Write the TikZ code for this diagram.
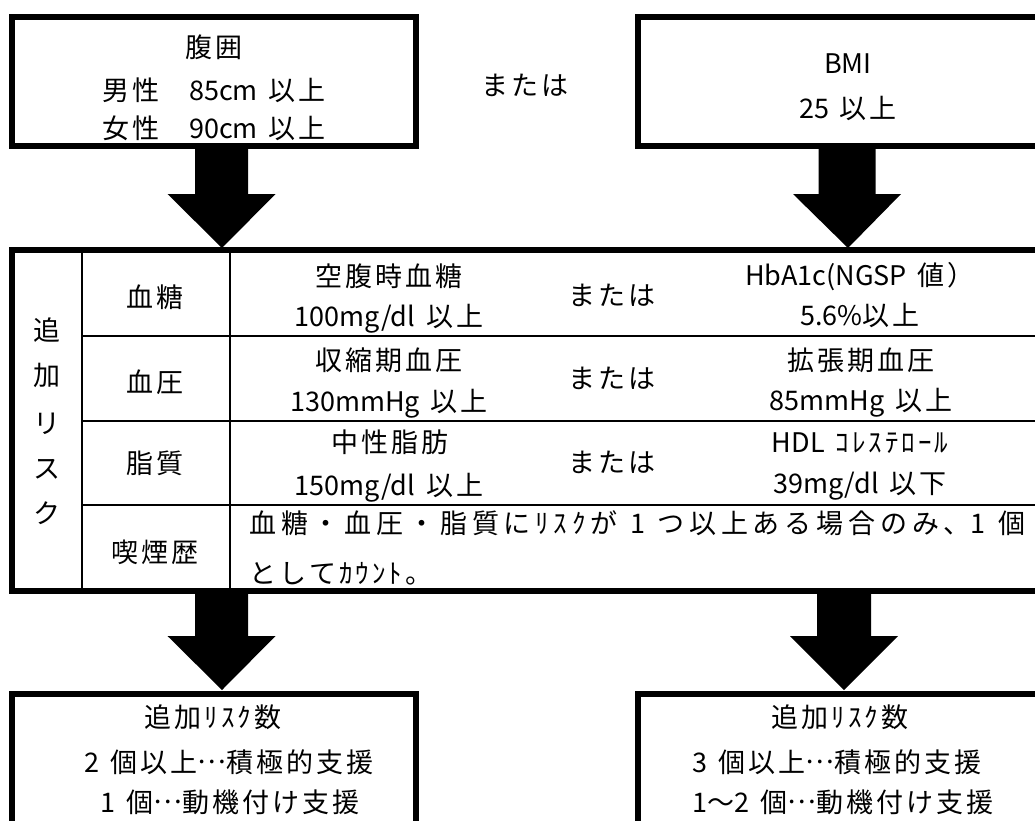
\documentclass[tikz,border=0pt]{standalone}
\usepackage{fontspec}
\setmainfont{Noto Sans CJK JP}
\usetikzlibrary{calc}
\newXeTeXintercharclass\jpclass
\makeatletter
\def\setjprange#1#2{\count@=#1\relax
  \loop\XeTeXcharclass\count@=\jpclass\relax
  \ifnum\count@<#2\relax\advance\count@ 1\relax\repeat}
\setjprange{"3000}{"30FF}
\setjprange{"4E00}{"9FFF}
\setjprange{"FF01}{"FF60}
\setjprange{"FF61}{"FF9F}
\makeatother
\XeTeXinterchartokenstate=1
\XeTeXinterchartoks\jpclass\jpclass={\hskip 3pt plus 8pt\relax}
\newcommand\mdots{\raisebox{9pt}{…}}
\newcommand\tfont{\fontsize{27}{32}\selectfont\spaceskip 11pt plus 6pt minus 2pt\relax}
\newcommand\blockarr[4]{% start, tip, half shaft, half head
  \fill let \p1=(#1), \p2=(#2) in
    (\x1-#3,\y1) -- (\x1-#3,\y2+54pt) -- (\x1-#4,\y2+54pt) -- (\x2,\y2)
    -- (\x1+#4,\y2+54pt) -- (\x1+#3,\y2+54pt) -- (\x1+#3,\y1) -- cycle;}
\begin{document}
\begin{tikzpicture}[x=1pt,y=-1pt,
  bigbox/.style={draw,line width=6pt,inner sep=0pt,outer sep=0pt},
  rule/.style={line width=2.6pt},
  t/.style={inner sep=0pt,text height=20pt,text depth=0pt,font=\tfont},
  tl/.style={t,anchor=west}]
\useasboundingbox (0,0) rectangle (1035,820);
\fill[white] (0,0) rectangle (1035,820);
\clip (0,0) rectangle (1035,820);

% top boxes
\node[bigbox,minimum width=404pt,minimum height=129pt] (waist) at (214,81.5) {};
\node[bigbox,minimum width=420pt,minimum height=129pt] (bmi) at (848,81.5) {};
\node[t] (w1) at (214,47) {腹囲};
\node[t] (w2) at (214,90) {男性　85cm 以上};
\node[t] (w3) at (214,128) {女性　90cm 以上};
\node[t] (or0) at (525,85) {または};
\node[t] (b1) at (848,63) {BMI};
\node[t] (b2) at (848,108) {25 以上};

% table
\draw[rule] (82,250) -- (82,591);
\draw[rule] (230,250) -- (230,591);
\draw[rule] (82,336) -- (1060,336);
\draw[rule] (82,421) -- (1060,421);
\draw[rule] (82,505) -- (1060,505);
\node[bigbox,minimum width=1048pt,minimum height=341pt] (risk) at (536,420.5) {};

\node[t] (v1) at (47,330) {追};
\node[t] (v2) at (47,375) {加};
\node[t] (v3) at (47,423) {リ};
\node[t] (v4) at (47,468) {ス};
\node[t] (v5) at (47,513) {ク};

\node[t] (k1) at (155,297) {血糖};
\node[t] (k2) at (155,382) {血圧};
\node[t] (k3) at (155,463) {脂質};
\node[t] (k4) at (155,552) {喫煙歴};

\node[t] (c11) at (389,276) {空腹時血糖};
\node[t] (c12) at (389,316) {100mg/dl 以上};
\node[t] (c21) at (389,360) {収縮期血圧};
\node[t] (c22) at (389,401) {130mmHg 以上};
\node[t] (c31) at (390,442) {中性脂肪};
\node[t] (c32) at (389,485) {150mg/dl 以上};

\node[t] (o1) at (612,295) {または};
\node[t] (o2) at (612,378) {または};
\node[t] (o3) at (612,462) {または};

\node[t] (d11) at (860,275) {HbA1c(NGSP 値）};
\node[t] (d12) at (860,315) {5.6\%以上};
\node[t] (d21) at (861,360) {拡張期血圧};
\node[t] (d22) at (861,400) {85mmHg 以上};
\node[t] (d31) at (860,442) {HDL ｺﾚｽﾃﾛｰﾙ};
\node[t] (d32) at (860,483) {39mg/dl 以下};

\node[tl] (s1) at (249,523) {\makebox[776pt][s]{血糖・血圧・脂質にﾘｽｸが 1 つ以上ある場合のみ、1 個}};
\node[tl] (s2) at (249,573) {としてｶｳﾝﾄ。};

% bottom boxes
\node[bigbox,minimum width=404pt,minimum height=206pt] (res1) at (214,797) {};
\node[bigbox,minimum width=420pt,minimum height=206pt] (res2) at (848,797) {};
\node[t] (r11) at (213,717) {追加ﾘｽｸ数};
\node[t] (r12) at (229,762) {2 個以上\mdots 積極的支援};
\node[t] (r13) at (230,802) {1 個\mdots 動機付け支援};
\node[t] (r21) at (840,717) {追加ﾘｽｸ数};
\node[t] (r22) at (837,762) {3 個以上\mdots 積極的支援};
\node[t] (r23) at (843,802) {1～2 個\mdots 動機付け支援};

% arrows
\coordinate (a1s) at (221.5,146);
\coordinate (a1e) at (222,248);
\coordinate (a2s) at (847,146);
\coordinate (a2e) at (848,248);
\coordinate (a3s) at (221.5,591);
\coordinate (a3e) at (222,690);
\coordinate (a4s) at (844,591);
\coordinate (a4e) at (844,690);
\blockarr{a1s}{a1e}{26.5pt}{54pt}
\blockarr{a2s}{a2e}{28.5pt}{54pt}
\blockarr{a3s}{a3e}{26.5pt}{54pt}
\blockarr{a4s}{a4e}{27pt}{54pt}
\end{tikzpicture}
\end{document}
